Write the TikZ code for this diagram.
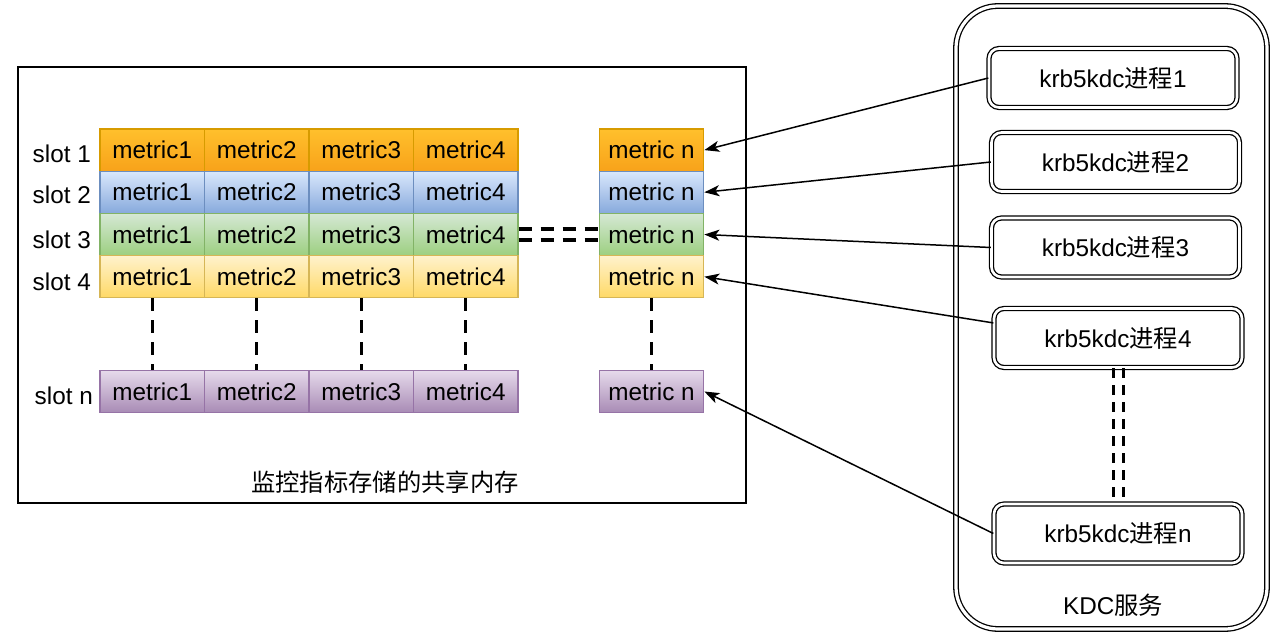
\documentclass[tikz,border=0pt]{standalone}
\usepackage{fontspec}
\setmainfont{Liberation Sans}
\newfontfamily\cjk{Noto Sans CJK SC}
\usetikzlibrary{arrows.meta,calc}
\definecolor{orT}{HTML}{FFC02C}\definecolor{orB}{HTML}{F8A21A}\definecolor{orS}{HTML}{D79B00}
\definecolor{blT}{HTML}{DAE8FC}\definecolor{blB}{HTML}{86A9DC}\definecolor{blS}{HTML}{6C8EBF}
\definecolor{grT}{HTML}{D5E8D4}\definecolor{grB}{HTML}{9CCF80}\definecolor{grS}{HTML}{82B366}
\definecolor{yeT}{HTML}{FFF2CC}\definecolor{yeB}{HTML}{FFD966}\definecolor{yeS}{HTML}{D6B656}
\definecolor{puT}{HTML}{E6DAEB}\definecolor{puB}{HTML}{A88BB5}\definecolor{puS}{HTML}{9673A6}
\tikzset{
  txt/.style={font=\fontsize{24.3}{28}\selectfont},
  cell/.style={txt, minimum width=104.5pt, minimum height=42.2pt, inner sep=0pt, line width=1.2pt},
  orc/.style={cell, draw=orS, top color=orT, bottom color=orB},
  blc/.style={cell, draw=blS, top color=blT, bottom color=blB},
  grc/.style={cell, draw=grS, top color=grT, bottom color=grB},
  yec/.style={cell, draw=yeS, top color=yeT, bottom color=yeB},
  puc/.style={cell, draw=puS, top color=puT, bottom color=puB},
  slotlbl/.style={txt, anchor=east, inner sep=0pt},
  proc/.style={txt, draw, line width=1.3pt, double=white, double distance=2.6pt, fill=white, rounded corners=10pt, minimum width=248pt, minimum height=59pt, inner sep=0pt},
  arr/.style={line width=1.5pt, -{Stealth[length=15pt,width=11pt,inset=4pt]}},
  dsh/.style={line width=3.4pt, dash pattern=on 13pt off 9pt},
}
\begin{document}
\begin{tikzpicture}[x=1pt,y=-1pt]
\useasboundingbox (0,0) rectangle (1288,644);
\fill[white] (0,0) rectangle (1288,644);
% shared memory box
\node[draw, line width=1.8pt, minimum width=728pt, minimum height=436pt, inner sep=0pt] (mem) at (382,285) {};
\node[txt, inner sep=0pt] (memlbl) at (385,482) {\cjk 监控指标存储的共享内存};
% cells
\foreach \r/\y/\s in {1/150.1/orc, 2/192.3/blc, 3/234.5/grc, 4/276.7/yec, n/391.5/puc}{
  \foreach \c/\x in {1/152.2, 2/256.7, 3/361.2, 4/465.7}{
    \node[\s] (c\r\c) at (\x,\y) {metric\c};
  }
  \node[\s] (mn\r) at (651.5,\y) {metric n};
}
\node[slotlbl] (s1) at (91,154) {slot 1};
\node[slotlbl] (s2) at (91,195) {slot 2};
\node[slotlbl] (s3) at (91,240) {slot 3};
\node[slotlbl] (s4) at (91,282) {slot 4};
\node[slotlbl] (sn) at (93,396) {slot n};
% dashed connectors in memory
\foreach \c in {1,2,3,4}{ \draw[dsh] (c4\c.south) -- (cn\c.north); }
\draw[dsh] (mn4.south) -- (mnn.north);
\draw[dsh] ([yshift=5.5pt]c34.east) -- ([yshift=5.5pt]mn3.west);
\draw[dsh] ([yshift=-5.5pt]c34.east) -- ([yshift=-5.5pt]mn3.west);
% KDC service box
\node[draw, line width=1.3pt, double=white, double distance=3.2pt, rounded corners=42pt, minimum width=311pt, minimum height=623pt, inner sep=0pt] (kdc) at (1111.5,317.5) {};
\node[txt, inner sep=0pt] (kdclbl) at (1113,605) {KDC{\cjk 服务}};
% processes
\node[proc] (p1) at (1113,78) {krb5kdc{\cjk 进程}1};
\node[proc] (p2) at (1115.5,162) {krb5kdc{\cjk 进程}2};
\node[proc] (p3) at (1115.5,247.5) {krb5kdc{\cjk 进程}3};
\node[proc] (p4) at (1118,338) {krb5kdc{\cjk 进程}4};
\node[proc] (pn) at (1118,533.5) {krb5kdc{\cjk 进程}n};
\draw[dsh, line width=3pt, dash pattern=on 10pt off 7pt] ([xshift=-5pt]p4.south) -- ([xshift=-5pt]pn.north);
\draw[dsh, line width=3pt, dash pattern=on 10pt off 7pt] ([xshift=5pt]p4.south) -- ([xshift=5pt]pn.north);
% arrows
\coordinate (p4s) at ($(p4.north west)!0.25!(p4.south west)$);
\draw[arr] (p1.west) -- (mn1.east);
\draw[arr] (p2.west) -- (mn2.east);
\draw[arr] (p3.west) -- (mn3.east);
\draw[arr] (p4s) -- (mn4.east);
\draw[arr] (pn.west) -- (mnn.east);
\end{tikzpicture}
\end{document}
